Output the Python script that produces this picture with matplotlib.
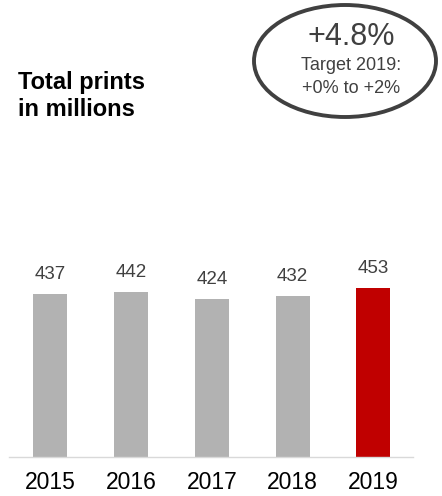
import matplotlib
matplotlib.use('Agg')
import matplotlib.pyplot as plt
from matplotlib.patches import Ellipse

plt.rcParams['font.family'] = ['Liberation Sans', 'DejaVu Sans']

years = ['2015', '2016', '2017', '2018', '2019']
prints = [437, 442, 424, 432, 453]
colors = ['#b2b2b2', '#b2b2b2', '#b2b2b2', '#b2b2b2', '#c00000']

W, H = 442, 496
fig = plt.figure(figsize=(W / 100, H / 100), dpi=100)

# axes placed in pixel units
left, right, bottom, top = 9, 413, 39.3, 250
ax = fig.add_axes([left / W, bottom / H, (right - left) / W, (top - bottom) / H])
x = range(len(years))
ax.bar(x, prints, width=0.42, color=colors)
ax.set_xlim(-0.51, 4.49)
ax.set_ylim(0, (top - bottom) / 0.372)
for xi, v in zip(x, prints):
    ax.annotate(str(v), (xi, v), xytext=(0, 14), textcoords='offset points',
                ha='center', va='center', fontsize=13.5, color='#404040')
for s in ['top', 'right', 'left']:
    ax.spines[s].set_visible(False)
ax.spines['bottom'].set_color('#d9d9d9')
ax.spines['bottom'].set_linewidth(1.0)
ax.set_yticks([])
ax.set_xticks(list(x))
ax.set_xticklabels(years, fontsize=16.5, color='black')
ax.tick_params(axis='x', length=0, pad=10)

# title
fig.text(18 / W, 1 - 96 / H, 'Total prints\nin millions', fontsize=17,
         fontweight='bold', ha='left', va='center', linespacing=1.2)

# ellipse callout
ell = Ellipse((345 / W, 1 - 61 / H), 182 / W, 112 / H, transform=fig.transFigure,
              fill=False, edgecolor='#404040', linewidth=2.8)
fig.patches.append(ell)
fig.text(351 / W, 1 - 37 / H, '+4.8%', fontsize=22, color='#404040',
         ha='center', va='center')
fig.text(351 / W, 1 - 65 / H, 'Target 2019:', fontsize=13, color='#404040',
         ha='center', va='center')
fig.text(351 / W, 1 - 88 / H, '+0% to +2%', fontsize=13, color='#404040',
         ha='center', va='center')

fig.savefig('out.png', dpi=100)
